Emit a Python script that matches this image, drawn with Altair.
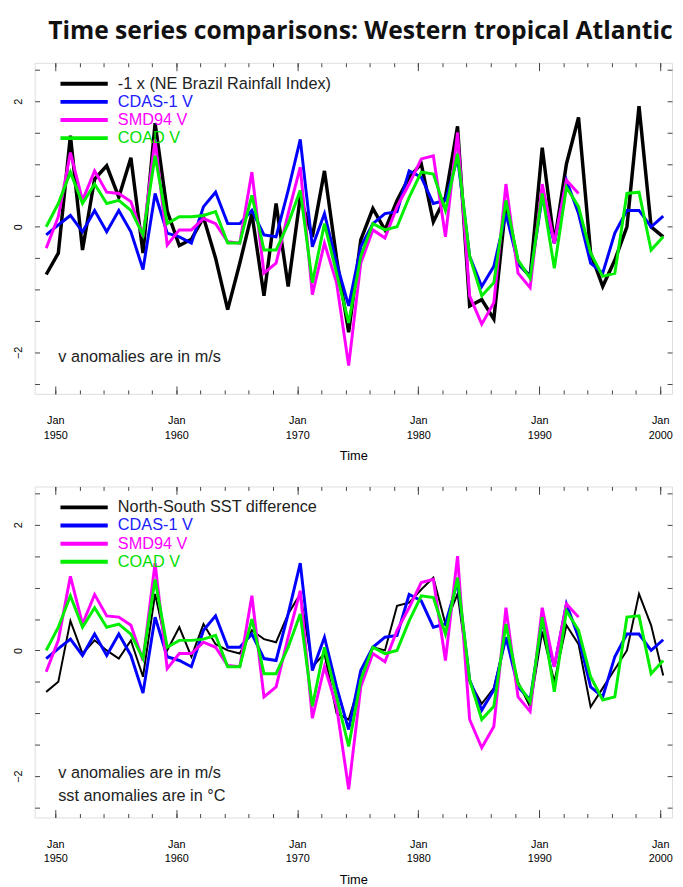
import altair as alt
import pandas as pd

# ---------------- data ----------------
years = list(range(1949, 2001))

rain_neg = [-0.76, -0.42, 1.45, -0.37, 0.76, 0.97, 0.47, 1.10, -0.42, 1.65,
            0.25, -0.30, -0.20, 0.15, -0.50, -1.32, -0.58, 0.21, -1.10, 0.37,
            -0.95, 0.47, -0.16, 0.89, -0.50, -1.68, -0.21, 0.29, -0.05, 0.42,
            0.79, 1.00, 0.08, 0.47, 1.60, -1.26, -1.16, -1.47, 0.37, -0.58,
            -0.79, 1.26, -0.26, 1.00, 1.74, -0.42, -0.95, -0.53, 0.00, 1.92,
            0.00, -0.16]

sst_diff = [-0.66, -0.50, 0.47, -0.05, 0.16, 0.00, -0.13, 0.16, -0.42, 0.90,
            0.00, 0.37, -0.10, 0.42, 0.10, 0.00, -0.05, 0.32, 0.18, 0.13,
            0.58, 0.90, -0.26, -0.05, -1.00, -1.10, -0.47, 0.05, 0.00, 0.71,
            0.76, 0.97, 1.16, 0.42, 0.90, -0.50, -0.85, -0.60, 0.20, -0.50,
            -0.90, 0.30, -0.50, 0.40, 0.10, -0.90, -0.60, -0.30, 0.00, 0.90,
            0.40, -0.40]

cdas = [-0.13, 0.03, 0.18, -0.08, 0.26, -0.08, 0.26, -0.08, -0.68, 0.53,
        -0.10, -0.16, -0.26, 0.32, 0.55, 0.05, 0.05, 0.26, -0.13, -0.16,
        0.58, 1.39, -0.32, 0.21, -0.58, -1.26, -0.32, 0.05, 0.21, 0.24,
        0.89, 0.79, 0.37, 0.42, 1.10, -0.47, -0.95, -0.63, 0.21, -0.58,
        -0.79, 0.47, -0.26, 0.74, 0.21, -0.58, -0.74, -0.10, 0.26, 0.26,
        0.00, 0.17]

smd94 = [-0.34, 0.16, 1.18, 0.42, 0.89, 0.55, 0.53, 0.40, -0.16, 1.39,
         -0.29, -0.05, -0.05, 0.13, 0.05, -0.24, -0.26, 0.87, -0.74, -0.58,
         0.21, 0.95, -1.08, -0.26, -0.89, -2.21, -0.58, -0.05, -0.18, 0.32,
         0.68, 1.08, 1.13, -0.16, 1.50, -1.10, -1.55, -1.21, 0.68, -0.74,
         -0.97, 0.68, -0.26, 0.74, 0.53]          # 1949-1993

coad = [0.00, 0.37, 0.87, 0.37, 0.68, 0.37, 0.42, 0.26, -0.13, 1.13,
        0.05, 0.16, 0.16, 0.18, 0.24, -0.26, -0.26, 0.50, -0.37, -0.37,
        0.05, 0.58, -0.89, 0.05, -0.74, -1.53, -0.47, 0.05, -0.05, 0.00,
        0.47, 0.87, 0.84, 0.26, 1.16, -0.47, -1.10, -0.89, 0.42, -0.53,
        -0.82, 0.53, -0.66, 0.63, 0.32, -0.42, -0.79, -0.74, 0.53, 0.55,
        -0.37, -0.16]

title_text = "Time series comparisons: Western tropical Atlantic"
black_top = "-1 x (NE Brazil Rainfall Index)"
black_bot = "North-South SST difference"
model_names = ["CDAS-1 V", "SMD94 V", "COAD V"]
notes_top = ["v anomalies are in m/s"]
notes_bot = ["v anomalies are in m/s", "sst anomalies are in °C"]
x_major = [1950, 1960, 1970, 1980, 1990, 2000]
x_minor = list(range(1948, 2001, 2))
y_labels = [-2, 0, 2]
y_minor = [-2.5, -2, -1.5, -1, -0.5, 0, 0.5, 1, 1.5, 2, 2.5]

# ---------------- layout ----------------
W, H = 647, 336
XDOM = [1948.29, 2000.98]
YDOM = [-2.66, 2.61]
COLORS = ["#000000", "#0000ff", "#ff00ff", "#00ee00"]
FONT = "Liberation Sans"


def long_df(black_name, black_vals):
    rows = []
    for name, vals in [(black_name, black_vals), ("CDAS-1 V", cdas),
                       ("SMD94 V", smd94), ("COAD V", coad)]:
        for yr, v in zip(years, vals):
            rows.append({"t": yr + 0.25, "v": v, "series": name})
    return pd.DataFrame(rows)


def xs():
    return alt.Scale(domain=XDOM, nice=False, zero=False)


def ys():
    return alt.Scale(domain=YDOM, nice=False, zero=False)


def tick_axis(orient, offset, values, size):
    return alt.Axis(orient=orient, offset=offset, values=values, tickSize=size,
                    labels=False, domain=False, grid=False, title=None,
                    tickColor="#444", tickWidth=1)


def panel(black_name, black_vals, black_width, notes, note_y0):
    df = long_df(black_name, black_vals)
    label_color = ("datum.label == 'CDAS-1 V' ? '#2020ff' : "
                   "datum.label == 'SMD94 V' ? '#ff00ff' : "
                   "datum.label == 'COAD V' ? '#00dd00' : '#222222'")
    lines = alt.Chart(df).mark_line(strokeJoin="miter").encode(
        x=alt.X("t:Q", scale=xs(), axis=alt.Axis(
            orient="bottom", values=x_major, ticks=False, domain=False, grid=False,
            labelExpr="['Jan', '' + datum.value]", labelFontSize=11,
            labelLineHeight=15, labelPadding=21, labelBaseline="top",
            labelFlush=False,
            title="Time", titleFontSize=13, titleFontWeight="normal",
            titlePadding=10)),
        y=alt.Y("v:Q", scale=ys(), axis=alt.Axis(
            orient="left", values=y_labels, ticks=False, domain=False, grid=False,
            labelAngle=270, labelFontSize=11, labelPadding=11, title=None)),
        color=alt.Color("series:N", scale=alt.Scale(
            domain=[black_name] + model_names, range=COLORS),
            legend=alt.Legend(orient="none", legendX=42, legendY=13, title=None,
                              symbolType="M-4,0H4", symbolSize=144,
                              symbolStrokeWidth=4, labelOffset=26,
                              labelFontSize=16.5, labelFont=FONT, labelLimit=500,
                              labelColor={"expr": label_color},
                              rowPadding=1.4, padding=0)),
        strokeWidth=alt.condition(alt.datum.series == black_name,
                                  alt.value(black_width), alt.value(3)),
    )
    # inward ticks on all four sides
    t1 = alt.Chart(df).mark_point(opacity=0).encode(
        x=alt.X("t:Q", scale=xs(), axis=tick_axis("top", -H, x_minor, 4)),
        y=alt.Y("v:Q", scale=ys(), axis=tick_axis("right", -W, y_minor, 5)))
    t2 = alt.Chart(df).mark_point(opacity=0).encode(
        x=alt.X("t:Q", scale=xs(), axis=tick_axis("bottom", -H, x_minor, 4)),
        y=alt.Y("v:Q", scale=ys(), axis=tick_axis("left", -W, y_minor, 5)))
    t3 = alt.Chart(df).mark_point(opacity=0).encode(
        x=alt.X("t:Q", scale=xs(), axis=tick_axis("top", -H, x_major, 8)),
        y=alt.Y("v:Q", scale=ys(), axis=None))
    t4 = alt.Chart(df).mark_point(opacity=0).encode(
        x=alt.X("t:Q", scale=xs(), axis=tick_axis("bottom", -H, x_major, 8)),
        y=alt.Y("v:Q", scale=ys(), axis=None))
    layers = [t1, t2, t3, t4, lines]
    for i, note in enumerate(notes):
        ndf = pd.DataFrame({"note": [note]})
        layers.append(alt.Chart(ndf).mark_text(
            align="left", baseline="middle", fontSize=16.5, font=FONT, color="#222"
        ).encode(text="note:N", x=alt.value(24), y=alt.value(note_y0 + i * 23)))
    return alt.layer(*layers).resolve_scale(x="independent", y="independent").properties(
        width=W, height=H)


top = panel(black_top, rain_neg, 3.5, notes_top, 299)
bottom = panel(black_bot, sst_diff, 2, notes_bot, 291)

chart = alt.vconcat(top, bottom, spacing=94, bounds="flush").resolve_scale(
    color="independent"
).properties(
    title=alt.TitleParams(title_text, fontSize=25, font="Open Sans",
                          fontWeight="bold", anchor="middle", offset=18, dx=18,
                          color="#111"),
    autosize=alt.AutoSizeParams(type="pad"),
    padding={"left": 4, "top": 5, "right": 2, "bottom": 0},
).configure_view(
    stroke="#555", strokeWidth=1.5
).configure_axis(
    labelFont=FONT, titleFont=FONT, labelColor="#222", titleColor="#222"
).configure(background="white")

chart.save("out.html", embed_options={"renderer": "svg", "actions": False})
